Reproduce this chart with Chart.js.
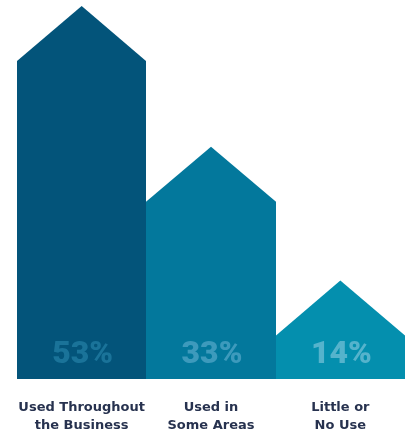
<!DOCTYPE html>
<html>
<head>
<meta charset="utf-8">
<script src="https://cdn.jsdelivr.net/npm/chart.js@4"></script>
<style>
  html, body { margin: 0; padding: 0; background: #fff; overflow: hidden; }
  #wrap { width: 405px; height: 436px; }
</style>
</head>
<body>
<div id="wrap"><canvas id="usage"></canvas></div>
<script>
const categories = [
  ["Used Throughout", "the Business"],
  ["Used in", "Some Areas"],
  ["Little or", "No Use"]
];
const shares = [53, 33, 14];
const barColors = ["#03547a", "#03789c", "#048fae"];
const valueColors = ["#1a7399", "#3d9abc", "#55b3cc"];

// bars are drawn as little houses: the peak is the value, the roof is a fixed height
const roofHeight = 55;

const houseBars = {
  id: "houseBars",
  beforeDatasetDraw(chart, args) {
    const ctx = chart.ctx;
    args.meta.data.forEach((bar, i) => {
      const { x, y, base, width } = bar.getProps(["x", "y", "base", "width"], true);
      // snap the walls to whole pixels so neighbouring bars meet without a seam
      const left = Math.round(x - width / 2);
      const right = Math.round(x + width / 2);
      ctx.save();
      ctx.fillStyle = barColors[i];
      ctx.beginPath();
      ctx.moveTo(left, base);
      ctx.lineTo(left, y + roofHeight);
      ctx.lineTo(x, y);
      ctx.lineTo(right, y + roofHeight);
      ctx.lineTo(right, base);
      ctx.closePath();
      ctx.fill();

      ctx.fillStyle = valueColors[i];
      ctx.font = "900 32px Roboto";
      ctx.textAlign = "center";
      ctx.textBaseline = "alphabetic";
      ctx.fillText(shares[i] + "%", x + 1, base - 16);
      ctx.restore();
    });
    return false;
  }
};

new Chart(document.getElementById("usage"), {
  type: "bar",
  data: {
    labels: categories,
    datasets: [{
      data: shares,
      backgroundColor: barColors,
      categoryPercentage: 1,
      barPercentage: 1
    }]
  },
  options: {
    responsive: true,
    maintainAspectRatio: false,
    animation: false,
    layout: { padding: { left: 17, right: 0, top: 6, bottom: 0 } },
    plugins: {
      legend: { display: false },
      tooltip: { enabled: false }
    },
    scales: {
      x: {
        grid: { display: false, drawTicks: false },
        border: { display: false },
        afterFit(scale) {
          scale.height = 57;
          scale.paddingLeft = 0;
          scale.paddingRight = 0;
        },
        ticks: {
          color: "#27324f",
          padding: 20,
          maxRotation: 0,
          autoSkip: false,
          font: { family: "'DejaVu Sans'", size: 13, weight: "bold", lineHeight: 1.38 }
        }
      },
      y: {
        display: false,
        min: 0,
        max: 53
      }
    }
  },
  plugins: [houseBars]
});
</script>
</body>
</html>
